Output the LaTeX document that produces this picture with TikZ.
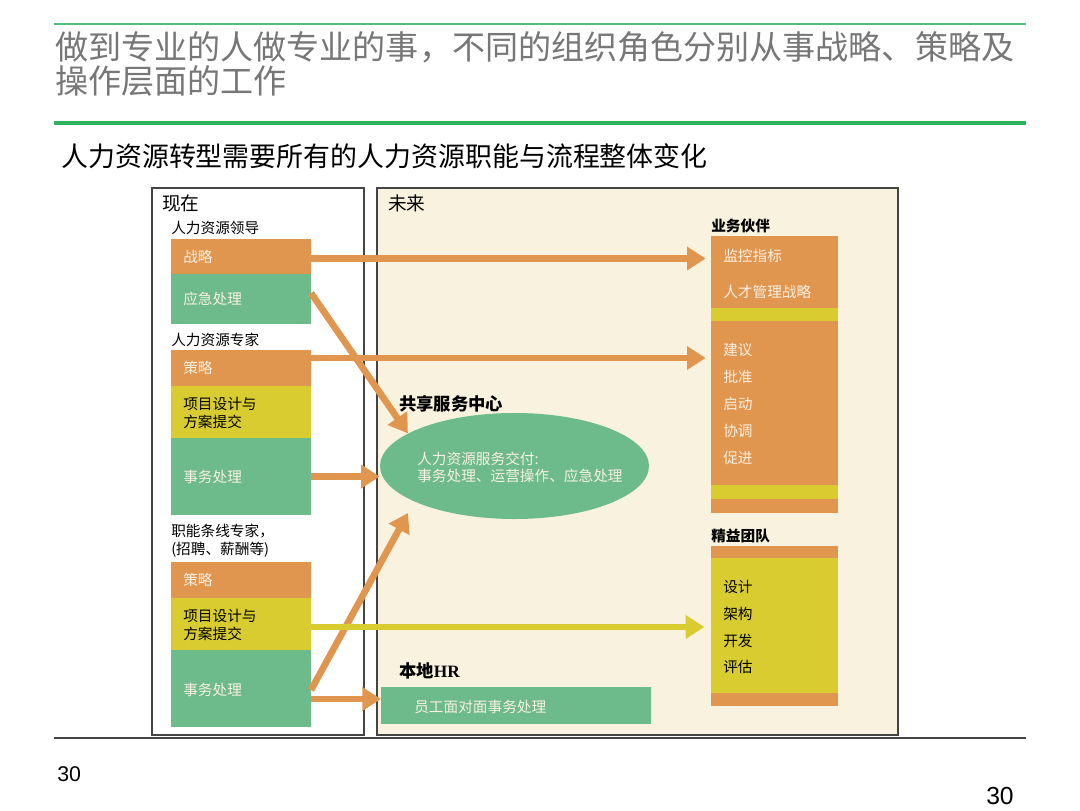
\documentclass[tikz,border=0pt]{standalone}
\usepackage{fontspec}
\newfontfamily\cjk{Noto Sans CJK SC}
\newfontfamily\arialf{Liberation Sans}
\newfontfamily\serf{Liberation Serif}
\usetikzlibrary{fit,shapes.geometric,arrows.meta,calc}
\definecolor{orangeC}{HTML}{E0964F}
\definecolor{greenC}{HTML}{6DBB8A}
\definecolor{yellowC}{HTML}{D8CC30}
\definecolor{bgC}{HTML}{F8F2DE}
\definecolor{wtxt}{HTML}{F8F0E2}
\definecolor{titleC}{HTML}{777777}
\definecolor{lineA}{HTML}{4CC07A}
\definecolor{lineB}{HTML}{2DB35F}
\definecolor{frameC}{HTML}{444444}
\tikzset{
  blk/.style={inner sep=0pt, outer sep=0pt, draw=none},
  lbl/.style={anchor=west, inner sep=0pt, align=left, font=\cjk\fontsize{11}{13.5}\selectfont},
  wl/.style={lbl, text=wtxt},
  hd/.style={anchor=west, inner sep=0pt, font=\cjk\bfseries\fontsize{13}{16}\selectfont},
  hds/.style={anchor=west, inner sep=0pt, font=\cjk\bfseries\fontsize{11}{14}\selectfont},
  arr/.style={draw=orangeC, line width=5pt, -{Triangle[length=14pt,width=17pt]}},
  yarr/.style={draw=yellowC, line width=4.5pt, -{Triangle[length=14pt,width=17pt]}},
}
\begin{document}
\begin{tikzpicture}[x=0.75pt,y=-0.75pt]
\useasboundingbox (0,0) rectangle (1080,810);
\fill[white] (0,0) rectangle (1080,810);
% header lines
\draw[lineA, line width=1.6pt] (54,24) -- (1026,24);
\draw[lineB, line width=2.4pt] (54,123) -- (1026,123);
\node[anchor=west, inner sep=0pt, align=left, text=titleC, font=\cjk\fontsize{24.8}{24.8}\selectfont] (title) at (55,64) {做到专业的人做专业的事，不同的组织角色分别从事战略、策略及\\操作层面的工作};
\node[anchor=west, inner sep=0pt, font=\cjk\fontsize{20.2}{24}\selectfont] (sub) at (61,156) {人力资源转型需要所有的人力资源职能与流程整体变化};
% frames
\node[fit={(152,188)(364,735)}, inner sep=0pt, outer sep=0pt, draw=frameC, line width=0.9pt, fill=white] (now) {};
\node[fit={(377,188)(898,735)}, inner sep=0pt, outer sep=0pt, draw=frameC, line width=0.9pt, fill=bgC] (fut) {};
\draw[frameC, line width=1.2pt] (54,738) -- (1026,738);
\node[anchor=west, inner sep=0pt, font=\cjk\fontsize{14}{16}\selectfont] (tnow) at (162,203) {现在};
\node[anchor=west, inner sep=0pt, font=\cjk\fontsize{14}{16}\selectfont] (tfut) at (388,203) {未来};
% left column
\node[lbl] (h1) at (171,228) {人力资源领导};
\node[blk, fit={(171,239)(311,274)}, fill=orangeC] (s1) {};
\node[blk, fit={(171,274)(311,324)}, fill=greenC] (g1) {};
\node[wl] (s1t) at (183,257) {战略};
\node[wl] (g1t) at (183,299) {应急处理};
\node[lbl] (h2) at (171,340) {人力资源专家};
\node[blk, fit={(171,350)(311,386)}, fill=orangeC] (p1) {};
\node[blk, fit={(171,386)(311,438)}, fill=yellowC] (y1) {};
\node[blk, fit={(171,438)(311,515)}, fill=greenC] (g2) {};
\node[wl] (p1t) at (183,368) {策略};
\node[lbl] (y1t) at (183,413) {项目设计与\\方案提交};
\node[wl] (g2t) at (183,477) {事务处理};
\node[lbl] (h3) at (171,540.5) {职能条线专家，\\(招聘、薪酬等)};
\node[blk, fit={(171,562)(311,598)}, fill=orangeC] (p2) {};
\node[blk, fit={(171,598)(311,650)}, fill=yellowC] (y2) {};
\node[blk, fit={(171,650)(311,727)}, fill=greenC] (g3) {};
\node[wl] (p2t) at (183,580) {策略};
\node[lbl] (y2t) at (183,625) {项目设计与\\方案提交};
\node[wl] (g3t) at (183,690) {事务处理};
% right column: business partner
\node[hds] (bph) at (711,226) {业务伙伴};
\node[blk, fit={(711,236)(838,308)}, fill=orangeC] (bp) {};
\node[blk, fit={(711,308)(838,321)}, fill=yellowC] (bpy1) {};
\node[blk, fit={(711,321)(838,485)}, fill=orangeC] (bp2) {};
\node[blk, fit={(711,485)(838,499)}, fill=yellowC] (bpy2) {};
\node[blk, fit={(711,499)(838,513)}, fill=orangeC] (bp3) {};
\node[wl] (b1) at (723,256) {监控指标};
\node[wl] (b2) at (723,292) {人才管理战略};
\node[wl] (b3) at (723,350) {建议};
\node[wl] (b4) at (723,377) {批准};
\node[wl] (b5) at (723,404) {启动};
\node[wl] (b6) at (723,431) {协调};
\node[wl] (b7) at (723,458) {促进};
% lean team
\node[hds] (lth) at (711,536) {精益团队};
\node[blk, fit={(711,546)(838,558)}, fill=orangeC] (lt1) {};
\node[blk, fit={(711,558)(838,693)}, fill=yellowC] (lt) {};
\node[blk, fit={(711,693)(838,706)}, fill=orangeC] (lt2) {};
\node[lbl] (l1) at (723,587) {设计};
\node[lbl] (l2) at (723,614) {架构};
\node[lbl] (l3) at (723,641) {开发};
\node[lbl] (l4) at (723,667) {评估};
% shared service center
\node[hd] (ssch) at (399,404) {共享服务中心};
\node[ellipse, fill=greenC, inner sep=0pt, minimum width=201.75pt, minimum height=79.5pt] (ell) at (514.5,466) {};
\node[wl, font=\cjk\fontsize{11}{12.75}\selectfont] (ellt) at (417,467.5) {人力资源服务交付:\\事务处理、运营操作、应急处理};
% local HR
\node[hd] (lhrh) at (399,671) {本地{\serf HR}};
\node[blk, fit={(381,687)(651,724)}, fill=greenC] (lhr) {};
\node[wl] (lhrt) at (414,707) {员工面对面事务处理};
% arrows
\coordinate (a1s) at ($(s1.east)+(0,2)$);
\draw[arr, shorten >=4pt] (a1s) -- (a1s -| bp.west);
\coordinate (a2s) at ($(p1.north east)+(0,8)$);
\draw[arr, shorten >=4pt] (a2s) -- (a2s -| bp2.west);
\draw[arr] ($(g1.north east)+(0,19)$) -- (ell.163);
\draw[arr] (g2.east) -- (g2.east -| ell.west);
\coordinate (a5e) at (408,513);
\draw[arr] ($(g3.north east)+(0,40)$) -- (a5e);
\coordinate (a6s) at ($(g3.north east)+(0,49)$);
\draw[arr] (a6s) -- (a6s -| lhr.west);
\coordinate (a7s) at ($(y2.east)+(0,3)$);
\draw[yarr, shorten >=5pt] (a7s) -- (a7s -| lt.west);
% footer
\node[anchor=west, inner sep=0pt, font=\arialf\fontsize{16}{18}\selectfont] (pn1) at (57,774) {30};
\node[anchor=west, inner sep=0pt, font=\arialf\fontsize{18.5}{22}\selectfont] (pn2) at (986,796) {30};
\end{tikzpicture}
\end{document}
